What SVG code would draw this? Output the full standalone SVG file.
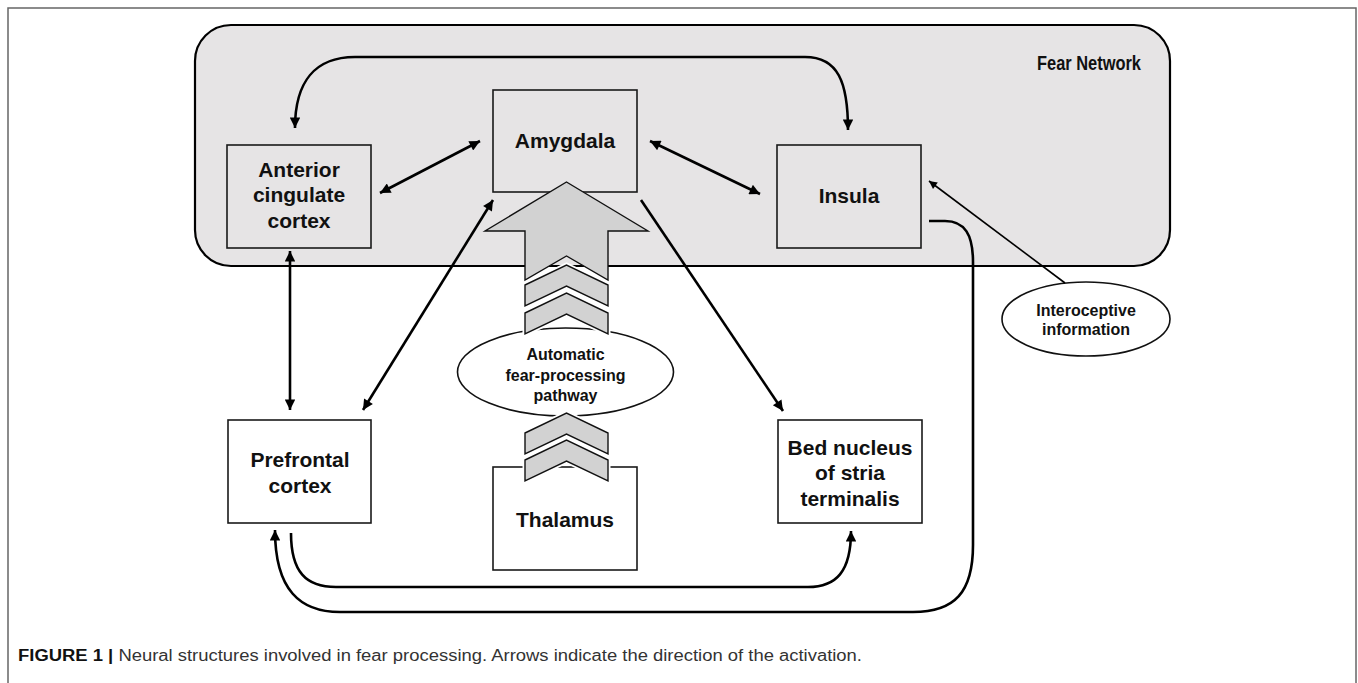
<svg xmlns="http://www.w3.org/2000/svg" width="1358" height="683" viewBox="0 0 1358 683">
<defs>
<style>
.box{fill:none;stroke:#1a1a1a;stroke-width:1.6}
.wbox{fill:#fff;stroke:#1a1a1a;stroke-width:1.6}
.lbl{font-family:"Liberation Sans",Arial,sans-serif;font-weight:bold;font-size:21px;fill:#111;text-anchor:middle}
.sm{font-family:"Liberation Sans",Arial,sans-serif;font-weight:bold;font-size:16px;fill:#111;text-anchor:middle}
.con{fill:none;stroke:#000;stroke-width:2.6}
.thin{fill:none;stroke:#000;stroke-width:1.6}
.chev{fill:#d2d2d2;stroke:#111;stroke-width:1.4}
.chevw{fill:none;stroke:#fff;stroke-width:5;stroke-linejoin:miter}
</style>
<marker id="ah" viewBox="0 0 10 10" refX="10" refY="5" markerWidth="5" markerHeight="4" orient="auto-start-reverse" markerUnits="strokeWidth">
<path d="M0,0 L10,5 L0,10 z" fill="#000"/>
</marker>
<marker id="ahs" viewBox="0 0 10 10" refX="10" refY="5" markerWidth="6" markerHeight="5" orient="auto-start-reverse" markerUnits="strokeWidth">
<path d="M0,0 L10,5 L0,10 z" fill="#000"/>
</marker>
<polygon id="chv" points="-41.5,20 0,0 41.5,20 41.5,41 0,21 -41.5,41"/>
</defs>
<rect x="8" y="8" width="1348" height="720" fill="#fff" stroke="#666" stroke-width="1.5"/>
<g id="fear-network">
<rect x="195" y="25" width="975" height="241" rx="36" ry="36" fill="#e6e4e5" stroke="#000" stroke-width="2.2"/>
<text x="1037" y="70" font-family="Liberation Sans,Arial,sans-serif" font-weight="bold" font-size="20.5" fill="#111" textLength="104" lengthAdjust="spacingAndGlyphs">Fear Network</text>
</g>
<g id="anterior-cingulate">
<rect class="box" x="227" y="145" width="144" height="103"/>
<text class="lbl" x="299" y="177">Anterior</text>
<text class="lbl" x="299" y="202">cingulate</text>
<text class="lbl" x="299" y="228">cortex</text>
</g>
<g id="amygdala">
<rect class="box" x="493" y="90" width="144" height="102"/>
<text class="lbl" x="565" y="148">Amygdala</text>
</g>
<g id="insula">
<rect class="box" x="777" y="145" width="144" height="103"/>
<text class="lbl" x="849" y="203">Insula</text>
</g>
<g id="prefrontal">
<rect class="wbox" x="228" y="420" width="143" height="103"/>
<text class="lbl" x="300" y="467">Prefrontal</text>
<text class="lbl" x="300" y="493">cortex</text>
</g>
<g id="bed-nucleus">
<rect class="wbox" x="778" y="420" width="144" height="103"/>
<text class="lbl" x="850" y="455">Bed nucleus</text>
<text class="lbl" x="850" y="480">of stria</text>
<text class="lbl" x="850" y="506">terminalis</text>
</g>
<g id="interoceptive">
<ellipse cx="1086" cy="319" rx="84" ry="37" fill="#fff" stroke="#111" stroke-width="1.6"/>
<text class="sm" x="1086" y="316" font-size="14.5">Interoceptive</text>
<text class="sm" x="1086" y="335" font-size="14.5">information</text>
</g>
<g id="automatic-pathway">
<ellipse cx="565.5" cy="372" rx="108" ry="44" fill="#fff" stroke="#111" stroke-width="1.6"/>
<text class="sm" x="565.5" y="360">Automatic</text>
<text class="sm" x="565.5" y="381">fear-processing</text>
<text class="sm" x="565.5" y="401">pathway</text>
</g>
<g id="thalamus">
<rect class="wbox" x="493" y="467" width="144" height="103"/>
<text class="lbl" x="565" y="527">Thalamus</text>
</g>
<g id="connectors">
<path class="con" d="M295,128 C295,82 315,57 355,57 L805,57 C838,57 848,82 848,130" marker-start="url(#ah)" marker-end="url(#ah)"/>
<path class="con" d="M380,193 L480,141" marker-start="url(#ah)" marker-end="url(#ah)"/>
<path class="con" d="M650,141 L760,194" marker-start="url(#ah)" marker-end="url(#ah)"/>
<path class="con" d="M290,251 L290,410" marker-start="url(#ah)" marker-end="url(#ah)"/>
<path class="con" d="M363,410 L493,200" marker-start="url(#ah)" marker-end="url(#ah)"/>
<path class="con" d="M641,200 L783,411" marker-end="url(#ah)"/>
<path class="con" d="M291,533 C291,572 306,587 336,587 L808,587 C836,587 851,572 851,531" marker-end="url(#ah)"/>
<path class="con" d="M929,221 L945,221 C965,221 973,235 973,262 L973,545 C973,592 955,612 913,612 L340,612 C300,612 275,590 275,530" marker-end="url(#ah)"/>
<path class="thin" d="M1065,283 L929,181" marker-end="url(#ahs)"/>
</g>
<g id="fear-arrow">
<polygon points="566.5,182 648,231 608,231 608,280 566.5,256 525,280 525,231 485,231" fill="#d2d2d2" stroke="#111" stroke-width="1.4"/>
<use href="#chv" x="566.5" y="265" class="chevw"/>
<use href="#chv" x="566.5" y="265" class="chev"/>
<use href="#chv" x="566.5" y="293" class="chevw"/>
<use href="#chv" x="566.5" y="293" class="chev"/>
<use href="#chv" x="566.5" y="413" class="chevw"/>
<use href="#chv" x="566.5" y="413" class="chev"/>
<use href="#chv" x="566.5" y="440" class="chevw"/>
<use href="#chv" x="566.5" y="440" class="chev"/>
</g>
<g id="caption">
<text x="18" y="661" font-family="Liberation Sans,Arial,sans-serif" font-size="16" fill="#333" textLength="844" lengthAdjust="spacingAndGlyphs"><tspan font-weight="bold" fill="#111">FIGURE 1 |</tspan> Neural structures involved in fear processing. Arrows indicate the direction of the activation.</text>
</g>
</svg>
